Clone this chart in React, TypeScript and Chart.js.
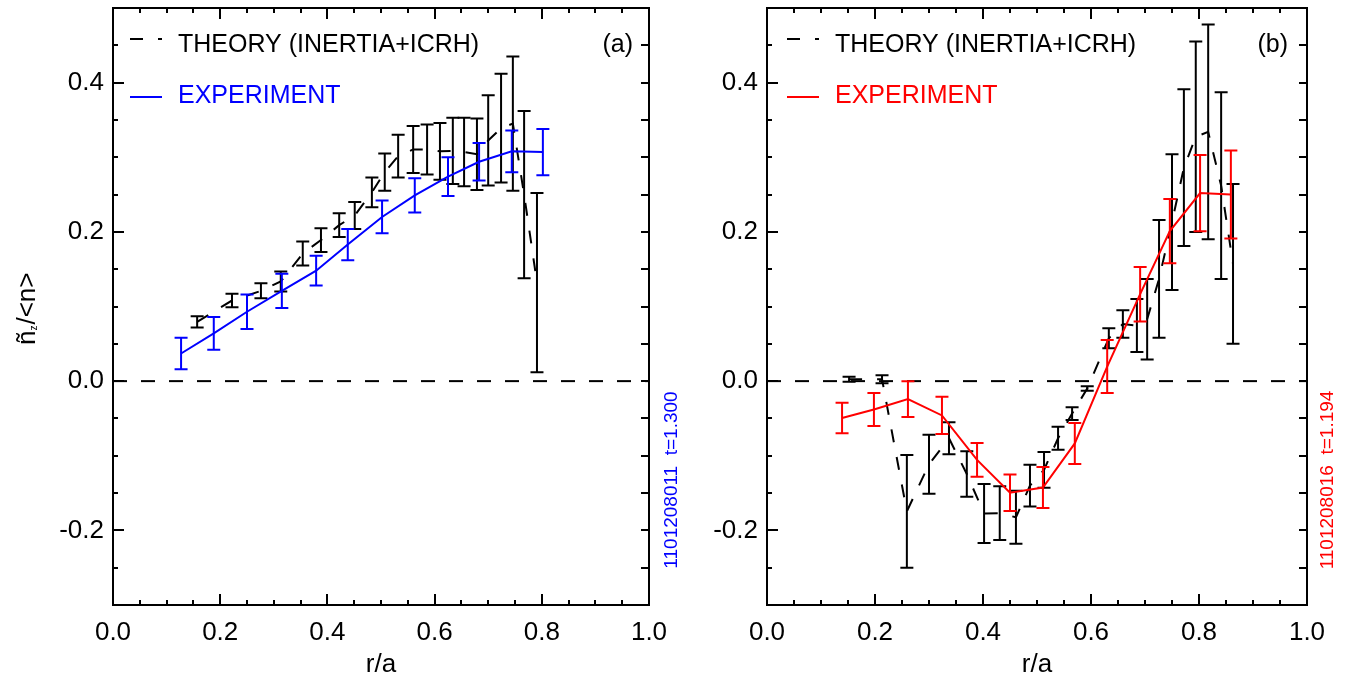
import React, { useEffect, useRef } from "react";
import { Chart, registerables } from "chart.js";

Chart.register(...registerables);

const FONT = "'Liberation Sans', Arial, Helvetica, sans-serif";

// ---------------- axis definitions ----------------
const xTickValues = [0, 0.2, 0.4, 0.6, 0.8, 1.0];
const yTickValues = [-0.2, 0.0, 0.2, 0.4];
const X_MIN = 0;
const X_MAX = 1;
const Y_MIN = -0.3;
const Y_MAX = 0.5;

// zero reference line
const zeroLine_r = [0, 1];
const zeroLine_n = [0, 0];

// ---------------- panel (a) ----------------
const expA_r = [0.127, 0.188, 0.25, 0.315, 0.379, 0.438, 0.502, 0.563, 0.625, 0.683, 0.744, 0.802];
const expA_n = [0.037, 0.064, 0.093, 0.121, 0.148, 0.183, 0.220, 0.249, 0.274, 0.294, 0.308, 0.307];
const expA_err = [0.021, 0.022, 0.023, 0.023, 0.020, 0.021, 0.022, 0.023, 0.026, 0.025, 0.028, 0.031];

const thA_r = [0.157, 0.222, 0.276, 0.313, 0.354, 0.388, 0.422, 0.451, 0.483, 0.507, 0.532, 0.560, 0.586, 0.610, 0.634, 0.655, 0.679, 0.700, 0.724, 0.746, 0.767, 0.791];
const thA_n = [0.0795, 0.108, 0.121, 0.1335, 0.171, 0.189, 0.209, 0.222, 0.253, 0.280, 0.3015, 0.3105, 0.3105, 0.308, 0.3085, 0.307, 0.304, 0.3225, 0.339, 0.345, 0.250, 0.132];
const thA_err = [0.0075, 0.009, 0.010, 0.0135, 0.016, 0.016, 0.016, 0.018, 0.020, 0.025, 0.0285, 0.0315, 0.0335, 0.038, 0.0445, 0.046, 0.048, 0.0605, 0.073, 0.090, 0.112, 0.120];

// ---------------- panel (b) ----------------
const expB_r = [0.139, 0.198, 0.261, 0.324, 0.389, 0.450, 0.511, 0.570, 0.630, 0.691, 0.746, 0.802, 0.859];
const expB_n = [-0.0495, -0.038, -0.024, -0.046, -0.1055, -0.1495, -0.1425, -0.0835, 0.0195, 0.1165, 0.201, 0.252, 0.250];
const expB_err = [0.0205, 0.022, 0.024, 0.025, 0.0225, 0.0245, 0.0275, 0.0275, 0.0355, 0.0365, 0.043, 0.051, 0.059];

const thB_r = [0.152, 0.213, 0.259, 0.300, 0.337, 0.370, 0.402, 0.431, 0.461, 0.487, 0.513, 0.539, 0.565, 0.593, 0.633, 0.659, 0.685, 0.704, 0.726, 0.750, 0.772, 0.794, 0.817, 0.841, 0.863];
const thB_n = [0.0025, 0.0025, -0.1745, -0.1115, -0.0765, -0.1245, -0.1775, -0.177, -0.1825, -0.140, -0.119, -0.0765, -0.0435, -0.010, 0.0575, 0.0765, 0.0745, 0.083, 0.137, 0.213, 0.286, 0.3275, 0.334, 0.262, 0.157];
const thB_err = [0.0035, 0.0055, 0.0755, 0.0395, 0.0215, 0.0305, 0.0395, 0.036, 0.0355, 0.028, 0.024, 0.0155, 0.0085, 0.003, 0.0135, 0.0185, 0.0355, 0.054, 0.079, 0.091, 0.105, 0.1275, 0.144, 0.125, 0.107];

// ---------------- layout ----------------
const H = 683;
const AREA_TOP = 8;
const AREA_BOTTOM = 605;

type Spec = {
  left: number;
  width: number;
  areaLeft: number;
  areaRight: number;
  expR: number[];
  expN: number[];
  expErr: number[];
  expColor: string;
  thR: number[];
  thN: number[];
  thErr: number[];
  tag: string;
  tagRightX: number;
  shot: string;
  shotX: number;
  sampleX: number;
  textX: number;
  yTitle: boolean;
};

const specA: Spec = {
  left: 0,
  width: 690,
  areaLeft: 113,
  areaRight: 649,
  expR: expA_r,
  expN: expA_n,
  expErr: expA_err,
  expColor: "#0000ff",
  thR: thA_r,
  thN: thA_n,
  thErr: thA_err,
  tag: "(a)",
  tagRightX: 633,
  shot: "1101208011  t=1.300",
  shotX: 670,
  sampleX: 130,
  textX: 178,
  yTitle: true,
};

const specB: Spec = {
  left: 690,
  width: 660,
  areaLeft: 767 - 690,
  areaRight: 1307 - 690,
  expR: expB_r,
  expN: expB_n,
  expErr: expB_err,
  expColor: "#ff0000",
  thR: thB_r,
  thN: thB_n,
  thErr: thB_err,
  tag: "(b)",
  tagRightX: 1288 - 690,
  shot: "1101208016  t=1.194",
  shotX: 1326 - 690,
  sampleX: 787 - 690,
  textX: 835 - 690,
  yTitle: false,
};

function toPts(xs: number[], ys: number[]) {
  return xs.map((x, i) => ({ x, y: ys[i] }));
}

function makePlugin(s: Spec) {
  return {
    id: "panelDecor",
    afterDatasetDraw(chart: any, args: any) {
      const ds: any = chart.data.datasets[args.index];
      if (!ds.errors) return;
      const { ctx } = chart;
      const xs = chart.scales.x;
      const ys = chart.scales.y;
      const cap = 6.5;
      ctx.save();
      ctx.strokeStyle = ds.borderColor;
      ctx.lineWidth = 2;
      ctx.setLineDash([]);
      ds.data.forEach((pt: any, i: number) => {
        const e = ds.errors[i];
        const px = xs.getPixelForValue(pt.x);
        const y1 = ys.getPixelForValue(pt.y - e);
        const y2 = ys.getPixelForValue(pt.y + e);
        ctx.beginPath();
        ctx.moveTo(px, y1);
        ctx.lineTo(px, y2);
        ctx.moveTo(px - cap, y1);
        ctx.lineTo(px + cap, y1);
        ctx.moveTo(px - cap, y2);
        ctx.lineTo(px + cap, y2);
        ctx.stroke();
      });
      ctx.restore();
    },
    afterDraw(chart: any) {
      const { ctx, chartArea } = chart;
      const { left, right, top, bottom } = chartArea;
      const xs = chart.scales.x;
      const ys = chart.scales.y;
      ctx.save();
      ctx.setLineDash([]);
      ctx.strokeStyle = "#000";
      ctx.lineWidth = 2;
      // frame
      ctx.strokeRect(left, top, right - left, bottom - top);
      // x ticks (bottom and top)
      ctx.beginPath();
      for (let i = 0; i <= 20; i++) {
        const v = X_MIN + i * 0.05;
        const px = Math.round(xs.getPixelForValue(v));
        const len = i % 4 === 0 ? 11 : 5;
        ctx.moveTo(px, bottom);
        ctx.lineTo(px, bottom - len);
        ctx.moveTo(px, top);
        ctx.lineTo(px, top + len);
      }
      // y ticks (left and right)
      for (let i = -6; i <= 10; i++) {
        const v = i * 0.05;
        const py = Math.round(ys.getPixelForValue(v));
        const len = i % 4 === 0 ? 11 : 5;
        ctx.moveTo(left, py);
        ctx.lineTo(left + len, py);
        ctx.moveTo(right, py);
        ctx.lineTo(right - 8, py);
      }
      ctx.stroke();

      // legend
      ctx.font = `25px ${FONT}`;
      ctx.textBaseline = "alphabetic";
      ctx.textAlign = "left";
      ctx.strokeStyle = "#000";
      ctx.setLineDash([13, 15]);
      ctx.beginPath();
      ctx.moveTo(s.sampleX, 39);
      ctx.lineTo(s.sampleX + 32, 39);
      ctx.stroke();
      ctx.setLineDash([]);
      ctx.fillStyle = "#000";
      ctx.fillText("THEORY (INERTIA+ICRH)", s.textX, 52);
      ctx.strokeStyle = s.expColor;
      ctx.beginPath();
      ctx.moveTo(s.sampleX, 97);
      ctx.lineTo(s.sampleX + 32, 97);
      ctx.stroke();
      ctx.fillStyle = s.expColor;
      ctx.fillText("EXPERIMENT", s.textX, 103);

      // panel tag
      ctx.fillStyle = "#000";
      ctx.textAlign = "right";
      ctx.fillText(s.tag, s.tagRightX, 52);

      // shot label (rotated)
      ctx.save();
      ctx.font = `19px ${FONT}`;
      ctx.fillStyle = s.expColor;
      ctx.translate(s.shotX + 7, 480);
      ctx.rotate(-Math.PI / 2);
      ctx.textAlign = "center";
      ctx.textBaseline = "alphabetic";
      ctx.fillText(s.shot, 0, 0);
      ctx.restore();

      // y title
      if (s.yTitle) {
        ctx.save();
        ctx.fillStyle = "#000";
        ctx.translate(35, 345);
        ctx.rotate(-Math.PI / 2);
        ctx.textAlign = "left";
        ctx.textBaseline = "alphabetic";
        ctx.font = `26px ${FONT}`;
        ctx.fillText("ñ", 0, 0);
        let w = ctx.measureText("ñ").width;
        ctx.font = `10px ${FONT}`;
        ctx.fillText("z", w, 2);
        w += ctx.measureText("z").width + 1;
        ctx.font = `26px ${FONT}`;
        ctx.fillText("/<n>", w, 0);
        ctx.restore();
      }
      ctx.restore();
    },
  };
}

function buildConfig(s: Spec): any {
  return {
    type: "line",
    data: {
      datasets: [
        {
          label: "EXPERIMENT",
          data: toPts(s.expR, s.expN),
          errors: s.expErr,
          borderColor: s.expColor,
          backgroundColor: s.expColor,
          borderWidth: 2,
          pointRadius: 0,
          tension: 0,
          fill: false,
        },
        {
          label: "THEORY (INERTIA+ICRH)",
          data: toPts(s.thR, s.thN),
          errors: s.thErr,
          borderColor: "#000000",
          backgroundColor: "#000000",
          borderWidth: 2,
          borderDash: [13, 15],
          pointRadius: 0,
          tension: 0,
          fill: false,
        },
        {
          label: "zero",
          data: toPts(zeroLine_r, zeroLine_n),
          borderColor: "#000000",
          borderWidth: 2,
          borderDash: [14, 14],
          pointRadius: 0,
          tension: 0,
          fill: false,
        },
      ],
    },
    options: {
      animation: false,
      responsive: false,
      devicePixelRatio: 1,
      events: [],
      layout: {
        padding: { left: 0, right: s.width - s.areaRight, top: AREA_TOP, bottom: 0 },
      },
      plugins: {
        legend: { display: false },
        tooltip: { enabled: false },
      },
      scales: {
        x: {
          type: "linear",
          position: "bottom",
          min: X_MIN,
          max: X_MAX,
          afterBuildTicks: (sc: any) => {
            sc.ticks = xTickValues.map((v) => ({ value: v }));
          },
          afterFit: (sc: any) => {
            sc.height = H - AREA_BOTTOM;
            sc.paddingLeft = 0;
            sc.paddingRight = 0;
            sc.paddingTop = 0;
            sc.paddingBottom = 0;
          },
          grid: { display: false, drawTicks: false },
          border: { display: false },
          ticks: {
            autoSkip: false,
            maxRotation: 0,
            padding: 12,
            color: "#000",
            font: { family: FONT, size: 26 },
            callback: (v: any) => Number(v).toFixed(1),
          },
          title: {
            display: true,
            text: "r/a",
            color: "#000",
            font: { family: FONT, size: 26 },
            padding: { top: 0, bottom: 3 },
          },
        },
        y: {
          type: "linear",
          position: "left",
          min: Y_MIN,
          max: Y_MAX,
          afterBuildTicks: (sc: any) => {
            sc.ticks = yTickValues.map((v) => ({ value: v }));
          },
          afterFit: (sc: any) => {
            sc.width = s.areaLeft;
            sc.paddingLeft = 0;
            sc.paddingRight = 0;
            sc.paddingTop = 0;
            sc.paddingBottom = 0;
          },
          grid: { display: false, drawTicks: false },
          border: { display: false },
          ticks: {
            autoSkip: false,
            padding: 9,
            color: "#000",
            font: { family: FONT, size: 26 },
            callback: (v: any) => Number(v).toFixed(1),
          },
        },
      },
    },
    plugins: [makePlugin(s)],
  };
}

function Panel({ spec }: { spec: Spec }) {
  const ref = useRef<HTMLCanvasElement>(null);
  useEffect(() => {
    if (!ref.current) return;
    const chart = new Chart(ref.current, buildConfig(spec));
    return () => chart.destroy();
  }, [spec]);
  return (
    <canvas
      ref={ref}
      width={spec.width}
      height={H}
      style={{ position: "absolute", left: spec.left, top: 0, width: spec.width, height: H }}
    />
  );
}

export default function App() {
  return (
    <div
      style={{
        position: "fixed",
        left: 0,
        top: 0,
        width: 1350,
        height: H,
        background: "#ffffff",
        overflow: "hidden",
      }}
    >
      <Panel spec={specA} />
      <Panel spec={specB} />
    </div>
  );
}
